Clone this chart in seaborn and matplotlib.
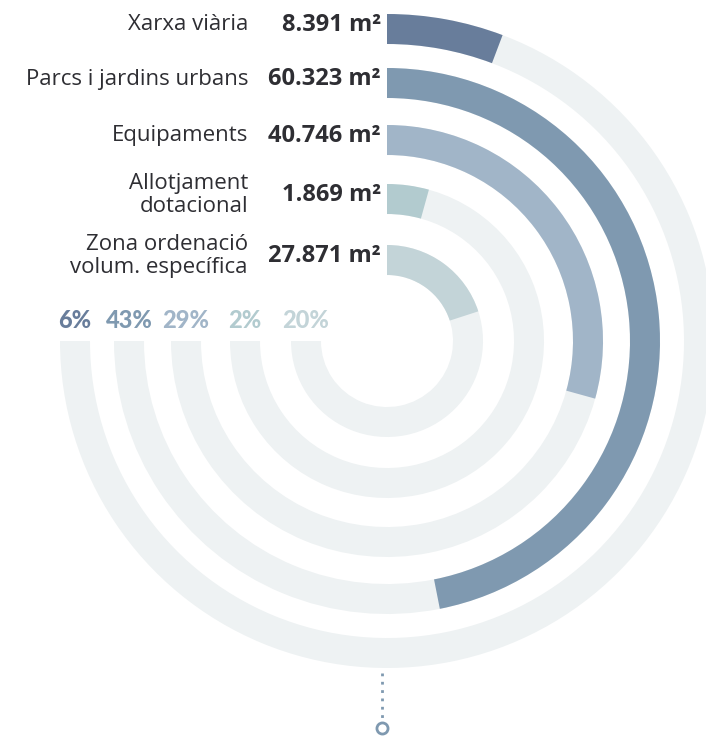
import numpy as np
import matplotlib
matplotlib.use("Agg")
import matplotlib.pyplot as plt
import seaborn as sns

# data
categories = ["Xarxa viària", "Parcs i jardins urbans", "Equipaments",
              "Allotjament\ndotacional", "Zona ordenació\nvolum. específica"]
area_m2 = ["8.391", "60.323", "40.746", "1.869", "27.871"]
pct_labels = ["6%", "43%", "29%", "2%", "20%"]
# share of the full circle covered by each drawn arc (as drawn in the picture)
arc_share = [0.0575, 0.469, 0.293, 0.043, 0.20]

bar_colors = ["#687D9B", "#7F99B0", "#A1B5C8", "#B2CBCF", "#C3D4D8"]
track_color = "#EEF2F3"
text_color = "#2E2E33"

sns.set_theme(style="white")
plt.rcParams["font.family"] = ["Open Sans", "DejaVu Sans"]

W, H = 706, 737
cx, cy = 387, 341          # centre of the rings, pixels from top-left
R = 330                    # radial extent of the polar axes in pixels
ring_outer = [327, 273, 216, 157, 96]
ring_w = 30

fig = plt.figure(figsize=(W / 100, H / 100), dpi=100)
fig.patch.set_facecolor("white")

ax = fig.add_axes([(cx - R) / W, (H - cy - R) / H, 2 * R / W, 2 * R / H],
                  projection="polar")
ax.set_theta_zero_location("N")
ax.set_theta_direction(-1)
ax.set_ylim(0, R)
ax.set_axis_off()

for i, cat in enumerate(categories):
    r0 = ring_outer[i] - ring_w
    # grey track over three quarters of the circle
    ax.bar(0, ring_w, width=1.5 * np.pi, bottom=r0, align="edge",
           color=track_color, edgecolor="none")
    ax.bar(0, ring_w, width=arc_share[i] * 2 * np.pi, bottom=r0, align="edge",
           color=bar_colors[i], edgecolor="none")
    # percentage above the end of each track
    ax.annotate(pct_labels[i], xy=(1.5 * np.pi, r0 + ring_w / 2),
                xytext=(0, 20), textcoords="offset pixels",
                ha="center", va="center", fontsize=17, fontweight="black",
                family=["Lato", "DejaVu Sans"], color=bar_colors[i])

    y_pix = cy - (r0 + ring_w / 2)
    fig.text(248 / W, 1 - (y_pix - 4) / H, cat, ha="right", va="center",
             fontsize=16, color=text_color, linespacing=1.1,
             multialignment="right")
    fig.text(381 / W, 1 - (y_pix - 4) / H, f"{area_m2[i]} m²", ha="right",
             va="center", fontsize=17, fontweight="bold", color=text_color)

# dotted pointer under the rings
ov = fig.add_axes([0, 0, 1, 1], facecolor="none")
ov.set_xlim(0, W)
ov.set_ylim(H, 0)
ov.set_axis_off()
ov.plot([382, 382], [673, 718], color="#7F99B0", linestyle=(0, (1, 2)), lw=2)
ov.plot([382], [728], marker="o", ms=8, mfc="white", mec="#7F99B0", mew=2)

fig.savefig("out.png", dpi=100, facecolor="white")
